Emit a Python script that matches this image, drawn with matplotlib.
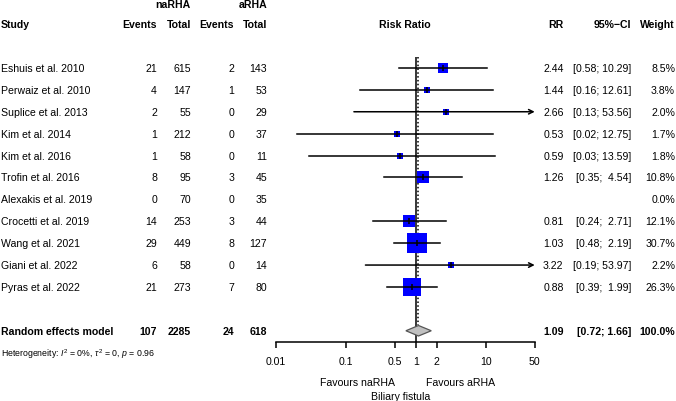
import numpy as np
import matplotlib
matplotlib.use("Agg")
import matplotlib.pyplot as plt
from matplotlib.transforms import blended_transform_factory
from matplotlib.ticker import FixedLocator, FixedFormatter, NullLocator

plt.rcParams["font.family"] = ["Liberation Sans", "DejaVu Sans"]
plt.rcParams["mathtext.fontset"] = "custom"
plt.rcParams["mathtext.rm"] = "Liberation Sans"
plt.rcParams["mathtext.it"] = "Liberation Sans:italic"

# data
studies = ["Eshuis et al. 2010", "Perwaiz et al. 2010", "Suplice et al. 2013",
           "Kim et al. 2014", "Kim et al. 2016", "Trofin et al. 2016",
           "Alexakis et al. 2019", "Crocetti et al. 2019", "Wang et al. 2021",
           "Giani et al. 2022", "Pyras et al. 2022"]
events_na = [21, 4, 2, 1, 1, 8, 0, 14, 29, 6, 21]
total_na = [615, 147, 55, 212, 58, 95, 70, 253, 449, 58, 273]
events_a = [2, 1, 0, 0, 0, 3, 0, 3, 8, 0, 7]
total_a = [143, 53, 29, 37, 11, 45, 35, 44, 127, 14, 80]
rr = [2.44, 1.44, 2.66, 0.53, 0.59, 1.26, np.nan, 0.81, 1.03, 3.22, 0.88]
ci_lo = [0.58, 0.16, 0.13, 0.02, 0.03, 0.35, np.nan, 0.24, 0.48, 0.19, 0.39]
ci_hi = [10.29, 12.61, 53.56, 12.75, 13.59, 4.54, np.nan, 2.71, 2.19, 53.97, 1.99]
weight = [8.5, 3.8, 2.0, 1.7, 1.8, 10.8, 0.0, 12.1, 30.7, 2.2, 26.3]

pooled_label = "Random effects model"
pooled_counts = [107, 2285, 24, 618]
pooled_rr, pooled_lo, pooled_hi = 1.09, 0.72, 1.66
heterogeneity = r"Heterogeneity: $I^2$ = 0%, $\tau^2$ = 0, $p$ = 0.96"

ticks = [0.01, 0.1, 0.5, 1, 2, 10, 50]
tick_labels = ["0.01", "0.1", "0.5", "1", "2", "10", "50"]

W, H = 676, 402
fig = plt.figure(figsize=(W / 100, H / 100), dpi=100)
# forest panel: x from 0.01 to 50, rows in data units
ax = fig.add_axes([276 / W, 1 - 342.7 / H, (534.7 - 276) / W, (342.7 - 58) / H])
ax.set_xscale("log")
ax.set_xlim(0.01, 50)
ax.set_ylim(12.5, -0.5)
for s in ["top", "left", "right"]:
    ax.spines[s].set_visible(False)
ax.spines["bottom"].set_linewidth(1.1)
ax.yaxis.set_visible(False)
ax.xaxis.set_major_locator(FixedLocator(ticks))
ax.xaxis.set_major_formatter(FixedFormatter(tick_labels))
ax.xaxis.set_minor_locator(NullLocator())
ax.tick_params(axis="x", direction="out", length=4, width=1.1, pad=6, labelsize=7.6)
ax.patch.set_visible(False)

fs = 7.6
tr = blended_transform_factory(fig.transFigure, ax.transData)
def px(x):
    return x / W

def ci_text(lo, hi):
    # R pads the upper limit to a fixed width
    hi_s = f"{hi:.2f}"
    pad = "  " if len(hi_s) < 5 else " "
    return f"[{lo:.2f};{pad}{hi_s}]"

x_w = 675

# reference lines
ax.axvline(1, color="black", lw=1.1)
ax.plot([pooled_rr, pooled_rr], [-0.5, 11.75], color="black", lw=1.1, ls=(0, (1, 1.5)))

rows = np.arange(len(studies))
for i in rows:
    # text columns
    ax.text(px(1), i, studies[i], transform=tr, fontsize=fs, va="center", ha="left")
    ax.text(px(157), i, str(events_na[i]), transform=tr, fontsize=fs, va="center", ha="right")
    ax.text(px(191), i, str(total_na[i]), transform=tr, fontsize=fs, va="center", ha="right")
    ax.text(px(234), i, str(events_a[i]), transform=tr, fontsize=fs, va="center", ha="right")
    ax.text(px(267), i, str(total_a[i]), transform=tr, fontsize=fs, va="center", ha="right")
    ax.text(px(x_w), i, f"{weight[i]:.1f}%", transform=tr, fontsize=fs, va="center", ha="right")
    if np.isnan(rr[i]):
        continue
    ax.text(px(563.5), i, f"{rr[i]:.2f}", transform=tr, fontsize=fs, va="center", ha="right")
    ax.text(px(631), i, ci_text(ci_lo[i], ci_hi[i]), transform=tr, fontsize=fs,
            va="center", ha="right")

    # square sized by weight
    side = max(5.5, 3.55 * np.sqrt(weight[i])) * 0.72
    ax.scatter(rr[i], i, marker="s", s=side ** 2, color="#0000FF", lw=0, zorder=3)
    # confidence interval
    if ci_hi[i] > 50:
        ax.annotate("", xy=(50, i), xytext=(ci_lo[i], i),
                    arrowprops=dict(arrowstyle="->", lw=1.1, color="black",
                                    shrinkA=0, shrinkB=0, mutation_scale=8),
                    annotation_clip=False, zorder=4)
    else:
        ax.plot([ci_lo[i], ci_hi[i]], [i, i], color="black", lw=1.1, zorder=4)
    ax.plot(rr[i], i, marker="|", ms=min(side, 4.5), mew=1.1, color="black", zorder=5)

# pooled row
prow = 12
ax.text(px(1), prow, pooled_label, transform=tr, fontsize=fs, va="center", ha="left", weight="bold")
for xp, v in zip([157, 191, 234, 267], pooled_counts):
    ax.text(px(xp), prow, str(v), transform=tr, fontsize=fs, va="center", ha="right", weight="bold")
ax.text(px(563.5), prow, f"{pooled_rr:.2f}", transform=tr, fontsize=fs, va="center", ha="right", weight="bold")
ax.text(px(631), prow, ci_text(pooled_lo, pooled_hi).replace("  ", " "), transform=tr, fontsize=fs,
        va="center", ha="right", weight="bold")
ax.text(px(x_w), prow, "100.0%", transform=tr, fontsize=fs, va="center", ha="right", weight="bold")
ax.fill([pooled_lo, pooled_rr, pooled_hi, pooled_rr], [prow, prow - 0.24, prow, prow + 0.24],
        facecolor="#C0C0C0", edgecolor="#555555", lw=0.9, zorder=3)

ax.text(px(1), 13.03, heterogeneity, transform=tr, fontsize=6.3, va="center", ha="left")

# headers
ax.text(px(173), -2.93, "naRHA", transform=tr, fontsize=fs, va="center", ha="center", weight="bold")
ax.text(px(253), -2.93, "aRHA", transform=tr, fontsize=fs, va="center", ha="center", weight="bold")
hy = -2.01
ax.text(px(1), hy, "Study", transform=tr, fontsize=fs, va="center", ha="left", weight="bold")
for xp, lab in zip([157, 191, 234, 267], ["Events", "Total", "Events", "Total"]):
    ax.text(px(xp), hy, lab, transform=tr, fontsize=fs, va="center", ha="right", weight="bold")
ax.text(px(405), hy, "Risk Ratio", transform=tr, fontsize=fs, va="center", ha="center", weight="bold")
ax.text(px(563.5), hy, "RR", transform=tr, fontsize=fs, va="center", ha="right", weight="bold")
ax.text(px(631), hy, "95%\u2212CI", transform=tr, fontsize=fs, va="center", ha="right", weight="bold")
ax.text(px(x_w), hy, "Weight", transform=tr, fontsize=fs, va="center", ha="right", weight="bold")

# bottom labels
ax.text(px(395), 14.34, "Favours naRHA", transform=tr, fontsize=fs, va="center", ha="right")
ax.text(px(426), 14.34, "Favours aRHA", transform=tr, fontsize=fs, va="center", ha="left")
ax.text(px(401), 15.0, "Biliary fistula", transform=tr, fontsize=fs, va="center", ha="center")

fig.savefig("out.png", dpi=100)
